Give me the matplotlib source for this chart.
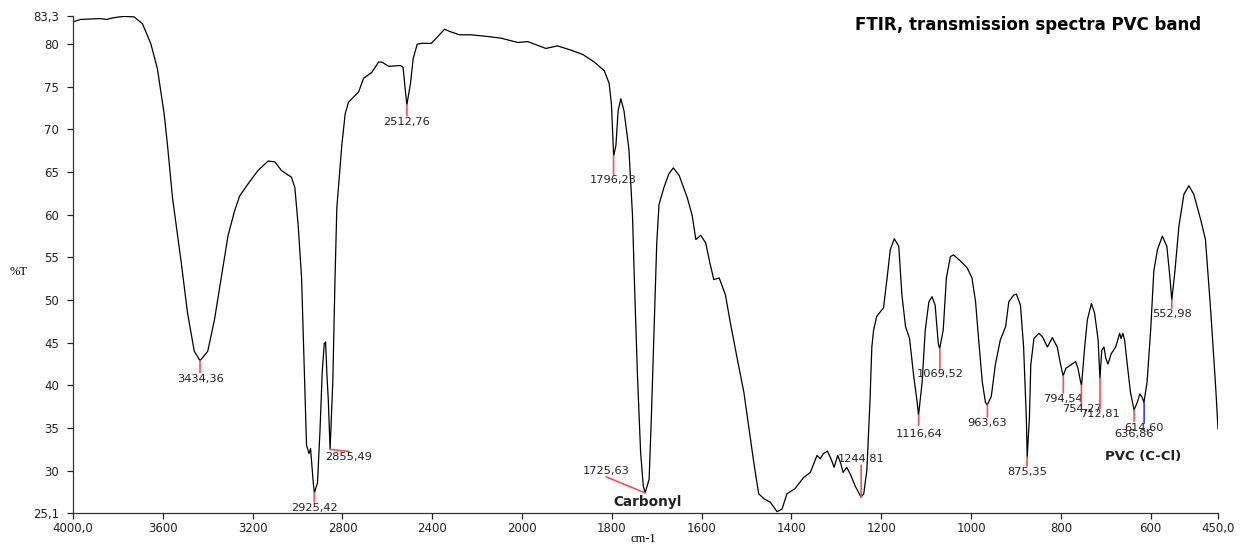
import numpy as np
import matplotlib
matplotlib.use('Agg')
import matplotlib.pyplot as plt
from matplotlib.ticker import FixedLocator, FixedFormatter, NullLocator

# FTIR spectrum (wavenumber cm-1, %T)
wavenumber = [4000, 3967, 3878, 3850, 3820, 3773, 3728, 3691, 3654, 3624,
              3594, 3579, 3557, 3519, 3490, 3460, 3434, 3400, 3370, 3340,
              3310, 3281, 3258, 3221, 3176, 3131, 3101, 3072, 3027, 3012,
              2997, 2982, 2967, 2960, 2949, 2942, 2930, 2925, 2911, 2900,
              2890, 2881, 2875, 2869, 2863, 2855, 2843, 2833, 2825, 2803,
              2788, 2773, 2728, 2706, 2669, 2639, 2624, 2594, 2542, 2530,
              2520, 2513, 2497, 2485, 2467, 2445, 2404, 2375, 2345, 2323,
              2279, 2227, 2153, 2093, 2019, 1987, 1947, 1921, 1891, 1865,
              1839, 1817, 1806, 1801, 1796, 1791, 1786, 1780, 1773, 1762,
              1754, 1750, 1743, 1736, 1730, 1726, 1717, 1712, 1706, 1700,
              1695, 1684, 1673, 1663, 1650, 1632, 1621, 1613, 1602, 1591,
              1581, 1573, 1561, 1547, 1536, 1521, 1506, 1495, 1484, 1473,
              1461, 1447, 1432, 1421, 1410, 1392, 1373, 1358, 1343, 1336,
              1329, 1320, 1312, 1305, 1297, 1291, 1285, 1277, 1269, 1258,
              1245, 1239, 1232, 1225, 1221, 1217, 1210, 1195, 1187, 1180,
              1171, 1161, 1154, 1146, 1137, 1128, 1120, 1117, 1109, 1102,
              1094, 1087, 1080, 1073, 1070, 1062, 1055, 1046, 1039, 1024,
              1009, 998, 990, 983, 975, 968, 964, 955, 946, 935,
              923, 916, 905, 899, 890, 883, 877, 875, 870, 867,
              860, 849, 841, 830, 819, 808, 802, 795, 789, 778,
              767, 762, 756, 754, 747, 741, 732, 725, 717, 713,
              709, 704, 700, 695, 688, 678, 669, 666, 662, 658,
              652, 645, 637, 630, 624, 619, 615, 608, 600, 593,
              585, 574, 564, 557, 553, 546, 537, 526, 515, 504,
              489, 478, 466, 455, 450]
transmittance = [82.6, 82.9, 83.0, 82.9, 83.1, 83.26, 83.2, 82.4, 80.1, 77.1,
                 71.8, 68.1, 62.0, 54.6, 48.5, 44.0, 42.9, 44.0, 47.7, 52.6,
                 57.5, 60.4, 62.2, 63.6, 65.2, 66.3, 66.2, 65.2, 64.4, 63.2,
                 58.7, 52.6, 39.2, 33.0, 32.0, 32.6, 28.6, 27.4, 28.6, 34.7,
                 41.6, 44.9, 45.1, 41.2, 38.3, 32.5, 40.4, 52.6, 60.8, 68.1,
                 71.8, 73.2, 74.4, 76.0, 76.7, 77.9, 77.9, 77.4, 77.5, 77.3,
                 74.6, 72.9, 75.4, 78.3, 80.0, 80.1, 80.1, 80.9, 81.75, 81.5,
                 81.1, 81.1, 80.9, 80.7, 80.2, 80.3, 79.5, 79.8, 79.3, 78.8,
                 77.9, 76.9, 75.4, 73.0, 66.9, 68.1, 72.2, 73.6, 72.2, 67.7,
                 59.9, 52.6, 41.2, 32.2, 28.2, 27.4, 29.0, 36.3, 46.5, 56.7,
                 61.2, 63.2, 64.8, 65.5, 64.6, 62.0, 59.9, 57.1, 57.6, 56.7,
                 54.2, 52.4, 52.6, 50.6, 47.3, 43.2, 39.2, 35.1, 31.0, 27.3,
                 26.7, 26.3, 25.2, 25.5, 27.3, 27.9, 29.2, 29.8, 31.8, 31.4,
                 32.0, 32.3, 31.4, 30.4, 31.8, 31.0, 29.8, 30.4, 29.6, 28.2,
                 26.9, 27.3, 30.1, 38.3, 44.5, 46.5, 48.1, 49.1, 52.6, 55.9,
                 57.2, 56.3, 50.6, 46.9, 45.5, 41.2, 38.0, 36.5, 40.4, 46.5,
                 49.8, 50.4, 49.4, 44.9, 44.3, 46.5, 52.6, 55.1, 55.3, 54.6,
                 53.8, 52.6, 49.8, 45.3, 40.4, 38.0, 37.7, 38.7, 42.4, 45.3,
                 46.9, 49.8, 50.6, 50.7, 49.4, 44.5, 36.3, 31.6, 36.3, 42.4,
                 45.5, 46.1, 45.7, 44.5, 45.6, 44.5, 42.8, 41.1, 42.0, 42.4,
                 42.8, 42.0, 40.4, 40.0, 44.5, 47.7, 49.6, 48.5, 45.3, 40.8,
                 44.1, 44.5, 43.2, 42.5, 43.7, 44.5, 46.1, 45.5, 46.1, 45.3,
                 42.4, 39.2, 37.1, 38.0, 39.0, 38.6, 38.0, 40.4, 46.5, 53.4,
                 55.9, 57.5, 56.3, 52.6, 50.0, 53.4, 58.7, 62.4, 63.4, 62.4,
                 59.5, 57.1, 48.5, 39.6, 34.9]
assert len(wavenumber) == len(transmittance)

# labelled peaks
peak_wn = [3434.36, 2925.42, 2855.49, 2512.76, 1796.23, 1725.63, 1244.81,
           1116.64, 1069.52, 963.63, 875.35, 794.54, 754.27, 712.81,
           636.86, 614.60, 552.98]
peak_t = [42.9, 27.4, 32.5, 72.9, 66.9, 27.4, 26.9, 36.5, 44.3, 37.7,
          31.6, 41.1, 40.0, 40.8, 37.1, 38.0, 50.0]
peak_labels = ['3434,36', '2925,42', '2855,49', '2512,76', '1796,23',
               '1725,63', '1244,81', '1116,64', '1069,52', '963,63',
               '875,35', '794,54', '754,27', '712,81', '636,86', '614,60',
               '552,98']

x_ticks = [4000, 3600, 3200, 2800, 2400, 2000, 1800, 1600, 1400, 1200,
           1000, 800, 600, 450]
x_tick_labels = ['4000,0', '3600', '3200', '2800', '2400', '2000', '1800',
                 '1600', '1400', '1200', '1000', '800', '600', '450,0']
y_ticks = [25.1, 30, 35, 40, 45, 50, 55, 60, 65, 70, 75, 80, 83.3]
y_tick_labels = ['25,1', '30', '35', '40', '45', '50', '55', '60', '65',
                 '70', '75', '80', '83,3']

# marker line end / label centre, in pixels from the peak
line_off = [(0, -12), (0, -9), (19, -2), (0, -11), (0, -19), (-39, 16),
            (0, 32), (0, -10), (0, -21), (0, -12), (0, -9), (0, -17),
            (0, -21), (0, -30), (0, -11), (0, -21), (0, -8)]
text_off = [(0, -18), (0, -15), (19, -8), (0, -17), (0, -24), (-39, 22),
            (0, 38), (0, -19), (0, -25), (0, -18), (0, -15), (0, -23),
            (0, -24), (0, -35), (0, -24), (0, -26), (0, -14)]
red = '#ff4d4d'
line_colors = [red] * 15 + ['#3b3bff', red]


# x axis is expanded 2x below 2000 cm-1
def fwd(w):
    w = np.asarray(w, dtype=float)
    return np.where(w > 2000, 2000 + (w - 2000) / 2.0, w)


def inv(u):
    u = np.asarray(u, dtype=float)
    return np.where(u > 2000, 2000 + 2.0 * (u - 2000), u)


fig = plt.figure(figsize=(12.42, 5.45), dpi=100)
ax = fig.add_axes([0.0588, 0.0596, 0.9219, 0.911])

ax.plot(wavenumber, transmittance, color='black', lw=0.9)

ax.set_xscale('function', functions=(fwd, inv))
ax.set_xlim(4000, 450)
ax.set_ylim(25.1, 83.3)
ax.xaxis.set_major_locator(FixedLocator(x_ticks))
ax.xaxis.set_major_formatter(FixedFormatter(x_tick_labels))
ax.xaxis.set_minor_locator(NullLocator())
ax.set_yticks(y_ticks)
ax.set_yticklabels(y_tick_labels)

for side in ['top', 'right']:
    ax.spines[side].set_visible(False)
for side in ['left', 'bottom']:
    ax.spines[side].set_linewidth(0.9)
    ax.spines[side].set_color('#333333')
ax.tick_params(axis='both', direction='out', length=4, width=0.9,
               labelsize=8.5, colors='#222222')
ax.tick_params(axis='x', pad=3)
ax.tick_params(axis='y', pad=6)

for wn_p, t_p, lab, lo, to, col in zip(peak_wn, peak_t, peak_labels,
                                       line_off, text_off, line_colors):
    ax.annotate('', xy=(wn_p, t_p), xytext=lo, textcoords='offset pixels',
                arrowprops=dict(arrowstyle='-', color=col, lw=1.2,
                                shrinkA=0, shrinkB=0))
    ax.annotate(lab, xy=(wn_p, t_p), xytext=to, textcoords='offset pixels',
                ha='center', va='center', fontsize=8.2, color='#222222')

ax.text(1720, 26.3, 'Carbonyl', ha='center', va='center', fontsize=9.8,
        fontweight='bold', color='#222222')
ax.text(616, 31.7, 'PVC (C-Cl)', ha='center', va='center', fontsize=9.5,
        fontweight='bold', color='#222222')
ax.text(487, 82.2, 'FTIR, transmission spectra PVC band', ha='right',
        va='center', fontsize=12, fontweight='bold', color='black')

fig.text(19 / 1242, 1 - 272 / 545, '%T', ha='center', va='center',
         fontsize=9, family='Liberation Serif')
fig.text(643 / 1242, 1 - 539 / 545, 'cm-1', ha='center', va='center',
         fontsize=9, family='Liberation Serif')

fig.savefig('out.png', dpi=100)
